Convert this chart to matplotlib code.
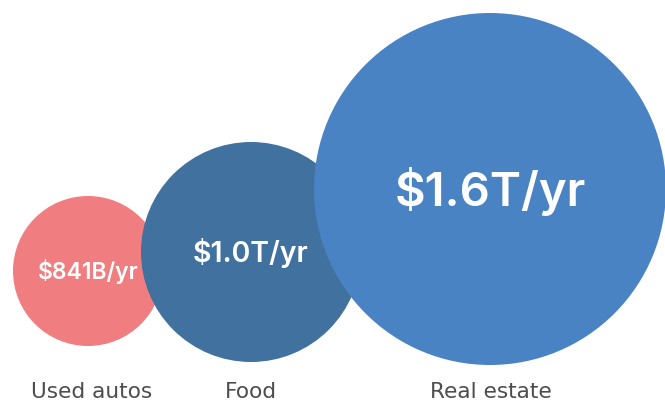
import matplotlib
matplotlib.use("Agg")
import matplotlib.pyplot as plt
from matplotlib.patches import Circle

# annual spending by category
categories = ["Used autos", "Food", "Real estate"]
values = [841, 1000, 1600]  # $B per year
value_labels = ["$841B/yr", "$1.0T/yr", "$1.6T/yr"]

# layout in pixel units (y down)
centers = [(88, 271), (251, 252), (490, 189)]
radii = [75, 110, 176]
colors = ["#F07E80", "#41729F", "#4A83C3"]
font_sizes = [16.5, 20.5, 34]
label_x = [92, 251, 491]
label_baseline = 398

fig = plt.figure(figsize=(6.65, 4.03), dpi=100)
ax = fig.add_axes([0, 0, 1, 1])
ax.set_xlim(0, 665)
ax.set_ylim(403, 0)
ax.set_aspect("equal")
ax.axis("off")

for i, cat in enumerate(categories):
    cx, cy = centers[i]
    ax.add_patch(Circle((cx, cy), radii[i], facecolor=colors[i],
                        edgecolor="none", zorder=i + 1))
    # half the cap height in px, so the figures sit centred in the circle
    half_cap = 0.505 * font_sizes[i]
    ax.text(cx, cy + half_cap, value_labels[i], color="white",
            fontsize=font_sizes[i], ha="center", va="baseline",
            family="Inter", weight="semibold", zorder=10)
    ax.text(label_x[i], label_baseline, cat, color="#4d4d4d", fontsize=15.6,
            ha="center", va="baseline", family="DejaVu Sans")

fig.savefig("out.png", dpi=100, facecolor="white")
